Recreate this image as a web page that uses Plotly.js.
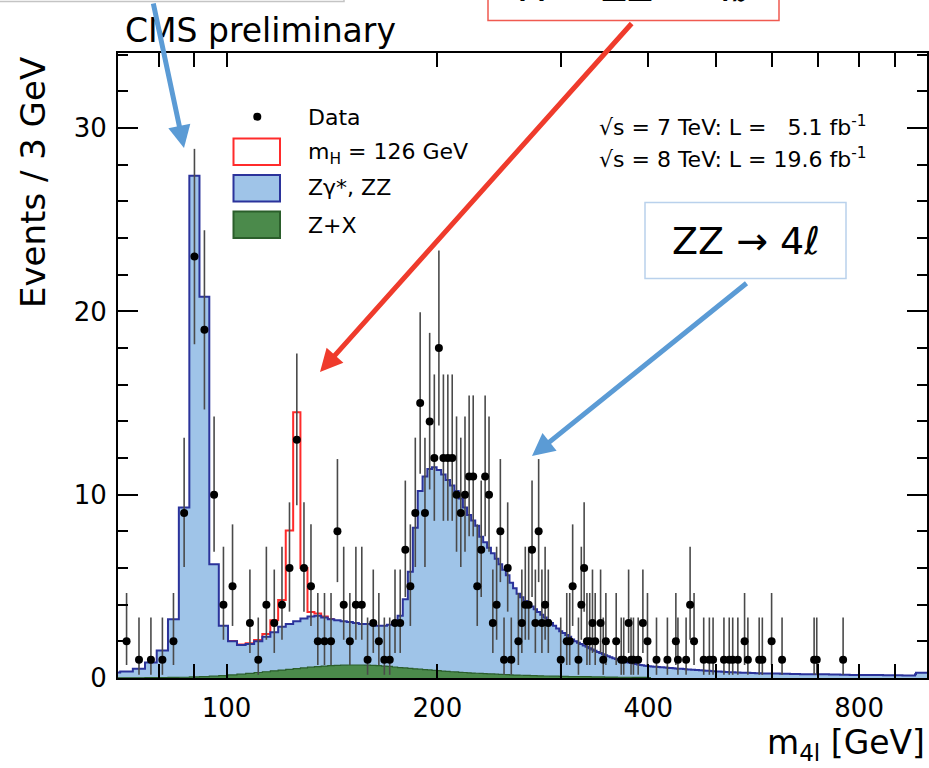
<!DOCTYPE html>
<html><head><meta charset="utf-8">
<script src="https://cdn.plot.ly/plotly-3.0.1.min.js"></script>
<style>html,body{margin:0;padding:0;background:#fff;} #chart{width:929px;height:768px;}</style>
</head><body><div id="chart"></div>
<script>
// ---- binning: 3 GeV bins, first bin [67.5, 70.5] ----
const binLowEdge = 67.5;
const binWidth = 3;

// stacked background top (Zgamma*,ZZ + Z+X), one value per 3 GeV bin, centres 69 ... 999
const bkgTotal = [
  0.3, 0.35, 0.5, 0.85, 1.5, 3.2, 9.3, 27.4, 20.8, 6.2,          // 69-96
  2.85, 2.0, 1.8, 1.85, 2.0, 2.25, 2.5, 2.8, 2.95, 3.1,          // 99-126
  3.25, 3.35, 3.4, 3.3, 3.2, 3.15, 3.1, 3.05, 3.0, 2.95,         // 129-156
  2.95, 2.9, 2.85, 2.85, 2.9, 3.05, 3.4, 4.3, 5.8, 8.2,          // 159-186
  10.2, 11.0, 11.4, 11.5, 11.35, 11.1, 10.8, 10.5, 10.2, 9.8,    // 189-216
  9.3, 8.9, 8.6, 8.3, 7.7, 7.4, 7.1, 6.8, 6.5, 6.2,              // 219-246
  5.9, 5.6, 5.2, 4.9, 4.6, 4.4, 4.2, 4.05, 3.9, 3.75,            // 249-276
  3.6, 3.45, 3.3, 3.15, 3.0, 2.85, 2.7, 2.55, 2.45, 2.35,        // 279-306
  2.25, 2.1, 2.0, 1.92, 1.85, 1.78, 1.7, 1.62, 1.55, 1.48,       // 309-336
  1.42, 1.36, 1.3, 1.24, 1.18, 1.13, 1.08, 1.04, 1.0, 0.96,      // 339-366
  0.92, 0.88, 0.85, 0.82, 0.79, 0.76, 0.73, 0.71, 0.69, 0.67,    // 369-396
  0.65, 0.64, 0.63, 0.62, 0.61, 0.6, 0.59, 0.58, 0.57, 0.56,     // 399-426
  0.55, 0.54, 0.53, 0.52, 0.51, 0.5, 0.5, 0.49, 0.48, 0.47,      // 429-456
  0.46, 0.45, 0.45, 0.44, 0.43, 0.42, 0.42, 0.41, 0.4, 0.39,     // 459-486
  0.39, 0.38, 0.37, 0.37, 0.36, 0.35, 0.35, 0.34, 0.34, 0.33,    // 489-516
  0.33, 0.32, 0.32, 0.31, 0.31, 0.3, 0.3, 0.3, 0.29, 0.29,       // 519-546
  0.29, 0.28, 0.28, 0.28, 0.27, 0.27, 0.27, 0.26, 0.26, 0.26,    // 549-576
  0.26, 0.25, 0.25, 0.25, 0.25, 0.24, 0.24, 0.24, 0.24, 0.24,    // 579-606
  0.24, 0.24, 0.24, 0.23, 0.23, 0.23, 0.23, 0.23, 0.23, 0.23,    // 609-636
  0.22, 0.22, 0.22, 0.22, 0.22, 0.22, 0.22, 0.21, 0.21, 0.21,    // 639-666
  0.21, 0.21, 0.21, 0.21, 0.2, 0.2, 0.2, 0.2, 0.2, 0.2,          // 669-696
  0.2, 0.2, 0.2, 0.2, 0.2, 0.2, 0.2, 0.2, 0.2, 0.19,             // 699-726
  0.19, 0.19, 0.19, 0.19, 0.19, 0.19, 0.19, 0.19, 0.18, 0.18,    // 729-756
  0.18, 0.18, 0.18, 0.18, 0.18, 0.18, 0.17, 0.17, 0.17, 0.17,    // 759-786
  0.17, 0.17, 0.17, 0.17, 0.17, 0.17, 0.17, 0.17, 0.17, 0.17,    // 789-816
  0.17, 0.17, 0.17, 0.17, 0.17, 0.16, 0.16, 0.16, 0.16, 0.16,    // 819-846
  0.16, 0.16, 0.16, 0.16, 0.16, 0.16, 0.15, 0.15, 0.15, 0.15,    // 849-876
  0.15, 0.15, 0.15, 0.15, 0.15, 0.15, 0.15, 0.15, 0.15, 0.15,    // 879-906
  0.15, 0.15, 0.15, 0.15, 0.15, 0.14, 0.14, 0.14, 0.14, 0.14,    // 909-936
  0.14, 0.14, 0.14, 0.14, 0.14, 0.14, 0.14, 0.14, 0.2, 0.28,     // 939-966
  0.28, 0.28, 0.28, 0.28, 0.28, 0.28, 0.28, 0.28, 0.28, 0.28,    // 969-996
  0.28                                                           // 999
];

// Z+X reducible background, same bins, centres 69 ... 402
const zPlusX = [
  0.01, 0.01, 0.01, 0.02, 0.02, 0.03, 0.04, 0.06, 0.08, 0.1,
  0.13, 0.17, 0.21, 0.25, 0.3, 0.34, 0.39, 0.43, 0.47, 0.51,
  0.55, 0.59, 0.62, 0.65, 0.67, 0.69, 0.7, 0.71, 0.71, 0.71,
  0.7, 0.69, 0.67, 0.65, 0.63, 0.6, 0.57, 0.55, 0.52, 0.5,
  0.48, 0.46, 0.44, 0.42, 0.4, 0.38, 0.36, 0.34, 0.33, 0.31,
  0.3, 0.28, 0.27, 0.26, 0.25, 0.24, 0.23, 0.22, 0.21, 0.2,
  0.19, 0.18, 0.17, 0.16, 0.16, 0.15, 0.14, 0.14, 0.13, 0.13,
  0.12, 0.12, 0.11, 0.11, 0.1, 0.1, 0.1, 0.09, 0.09, 0.09,
  0.08, 0.08, 0.08, 0.08, 0.07, 0.07, 0.07, 0.07, 0.06, 0.06,
  0.06, 0.06, 0.06, 0.05, 0.05, 0.05, 0.05, 0.05, 0.04, 0.04,
  0.04, 0.04, 0.04, 0.04, 0.03, 0.03, 0.03, 0.03, 0.03, 0.03,
  0.02, 0.02
];

// Higgs signal (mH = 126 GeV) stacked on top of background
const higgsMass   = [102, 105, 108, 111, 114, 117, 120, 123, 126, 129, 132, 135, 138, 141];
const higgsSignal = [0.02, 0.03, 0.05, 0.08, 0.15, 0.65, 1.45, 5.1, 11.4, 2.75, 0.25, 0.12, 0.05, 0.02];

// observed events (bin centre, count)
const dataMass = [
  72, 75, 78, 81, 84, 87, 90, 93, 96, 99,
  102, 108, 111, 114, 117, 120, 123, 126, 129, 132,
  135, 138, 141, 144, 147, 150, 153, 156, 159, 162,
  165, 168, 171, 174, 177, 180, 183, 186, 189, 192,
  195, 198, 201, 204, 207, 210, 213, 216, 219, 222,
  225, 228, 231, 234, 237, 240, 243, 246, 249, 252,
  255, 261, 264, 267, 270, 273, 276, 279, 282, 285,
  288, 300, 306, 309, 312, 318, 321, 324, 327, 330,
  333, 336, 342, 345, 348, 360, 366, 369, 375, 378,
  381, 387, 393, 399, 411, 426, 438, 441, 453, 459,
  465, 480, 489, 495, 513, 522, 528, 537, 549, 555,
  576, 582, 600, 621, 690, 696, 759
];
const dataCount = [
  2, 1, 1, 1, 2, 9, 23, 19, 10, 4,
  5, 3, 1, 4, 3, 4, 6, 13, 6, 5,
  2, 2, 2, 8, 4, 2, 4, 4, 1, 3,
  2, 1, 1, 3, 3, 7, 5, 9, 15, 9,
  14, 12, 18, 12, 12, 12, 10, 9, 10, 11,
  11, 5, 7, 11, 10, 3, 4, 8, 1, 6,
  1, 2, 3, 4, 4, 7, 3, 8, 3, 4,
  3, 1, 2, 2, 5, 1, 4, 6, 2, 2,
  3, 2, 3, 1, 2, 2, 1, 1, 3, 1,
  1, 1, 3, 2, 1, 1, 2, 1, 1, 4,
  2, 1, 1, 1, 1, 1, 1, 1, 2, 1,
  1, 1, 2, 1, 1, 1, 1
];

// 68% Poisson (Garwood) interval bounds for n = 0..25 events
const poissonLow  = [0, 0.173, 0.708, 1.367, 2.086, 2.840, 3.620, 4.418, 5.231, 6.055, 6.888,
  7.728, 8.575, 9.427, 10.285, 11.146, 12.02, 12.90, 13.77, 14.65, 15.54, 16.43, 17.32, 18.21, 19.11, 20.0];
const poissonHigh = [1.841, 3.300, 4.638, 5.918, 7.163, 8.382, 9.584, 10.771, 11.946, 13.113, 14.271,
  15.419, 16.562, 17.698, 18.831, 19.958, 21.08, 22.20, 23.32, 24.43, 25.55, 26.66, 27.77, 28.87, 29.97, 31.07];

const xTickVals  = [100, 200, 400, 800];
const xTickText  = ['100', '200', '400', '800'];
const xMinorVals = [80, 90, 300, 500, 600, 700, 900];

const COL = {
  zzFill: '#9fc4e8', zzLine: '#2b339b',
  zxFill: '#4b8a4b', zxLine: '#2b5e2b',
  higgs: '#ff2b2b', data: '#000000', err: '#4a4a4a',
  arrowBlue: '#5b9bd5', arrowRed: '#ef3b2c'
};

function stepTrace(firstEdge, values) {
  const x = [], y = [];
  values.forEach((v, i) => { x.push(firstEdge + i * binWidth); y.push(v); });
  x.push(firstEdge + values.length * binWidth);
  y.push(values[values.length - 1]);
  return { x, y };
}

const bkgStep = stepTrace(binLowEdge, bkgTotal);
const zxStep = stepTrace(binLowEdge, zPlusX);
const firstCentre = binLowEdge + binWidth / 2;
const higgsTotal = higgsMass.map((m, i) => bkgTotal[Math.round((m - firstCentre) / binWidth)] + higgsSignal[i]);
const higgsStep = stepTrace(higgsMass[0] - binWidth / 2, higgsTotal);

const errPlus = dataCount.map(n => poissonHigh[n] - n);
const errMinus = dataCount.map(n => n - poissonLow[n]);

const traces = [
  { type: 'scatter', mode: 'lines', x: higgsStep.x, y: higgsStep.y,
    line: { shape: 'hv', color: COL.higgs, width: 2 }, showlegend: false, hoverinfo: 'skip' },
  { type: 'scatter', mode: 'lines', x: bkgStep.x, y: bkgStep.y, fill: 'tozeroy', fillcolor: COL.zzFill,
    line: { shape: 'hv', color: COL.zzLine, width: 2 }, showlegend: false, hoverinfo: 'skip' },
  { type: 'scatter', mode: 'lines', x: zxStep.x, y: zxStep.y, fill: 'tozeroy', fillcolor: COL.zxFill,
    line: { shape: 'hv', color: COL.zxLine, width: 1.2 }, showlegend: false, hoverinfo: 'skip' },
  { type: 'scatter', mode: 'markers', x: dataMass, y: dataCount,
    marker: { color: COL.data, size: 8 },
    error_y: { type: 'data', symmetric: false, array: errPlus, arrayminus: errMinus,
               color: COL.err, thickness: 1.6, width: 0 },
    showlegend: false, hoverinfo: 'skip' }
];

// helpers for paper coordinates from pixel positions of the reference frame
const PL = 118, PW = 809, PB = 678, PH = 625;
const px = v => (v - PL) / PW;
const py = v => (PB - v) / PH;

const FONT = 'DejaVu Sans';

const shapes = [
  // cropped boxes at the top of the slide
  { type: 'rect', xref: 'paper', yref: 'paper', x0: px(-10), x1: px(344), y0: py(1.5), y1: py(-60),
    line: { color: '#c4c4c4', width: 1.5 }, fillcolor: '#ffffff', layer: 'above' },
  { type: 'rect', xref: 'paper', yref: 'paper', x0: px(488), x1: px(779), y0: py(20.5), y1: py(-60),
    line: { color: '#f05a50', width: 1.5 }, fillcolor: 'rgba(0,0,0,0)', layer: 'above' },
  // ZZ -> 4l label box
  { type: 'rect', xref: 'paper', yref: 'paper', x0: px(645), x1: px(846), y0: py(278.5), y1: py(202.5),
    line: { color: '#b9d1ec', width: 1.5 }, fillcolor: '#ffffff', layer: 'above' },
  // legend symbols
  { type: 'rect', xref: 'paper', yref: 'paper', x0: px(233.5), x1: px(280), y0: py(165), y1: py(138.5),
    line: { color: COL.higgs, width: 2 }, fillcolor: '#ffffff', layer: 'above' },
  { type: 'rect', xref: 'paper', yref: 'paper', x0: px(233.5), x1: px(280), y0: py(201.5), y1: py(175),
    line: { color: COL.zzLine, width: 2 }, fillcolor: COL.zzFill, layer: 'above' },
  { type: 'rect', xref: 'paper', yref: 'paper', x0: px(233.5), x1: px(280), y0: py(238), y1: py(211.5),
    line: { color: COL.zxLine, width: 2 }, fillcolor: COL.zxFill, layer: 'above' },
  { type: 'circle', xref: 'paper', yref: 'paper', x0: px(253.3), x1: px(261.3), y0: py(120.7), y1: py(112.7),
    line: { color: '#000', width: 0 }, fillcolor: '#000', layer: 'above' }
];

const ann = (text, x, y, size, extra) => Object.assign({
  text, x, y, xref: 'paper', yref: 'paper', showarrow: false,
  font: { family: FONT, size, color: '#000' }, xanchor: 'left', yanchor: 'middle'
}, extra || {});

const arrow = (hx, hy, tx, ty, color) => ({
  text: '', xref: 'paper', yref: 'paper', x: px(hx), y: py(hy), ax: tx - hx, ay: ty - hy,
  showarrow: true, arrowhead: 2, arrowsize: 0.9, arrowwidth: 5, arrowcolor: color, standoff: 0
});

const annotations = [
  ann('CMS preliminary', px(123), py(30), 33),
  ann('Events / 3 GeV', px(33), py(183), 34, { textangle: -90, xanchor: 'center' }),
  ann('m<sub>4l</sub> [GeV]', px(927), py(744), 33, { xanchor: 'right' }),
  ann('√s = 7 TeV: L =\u00a0\u00a0 5.1 fb<sup>-1</sup>', px(597), py(126), 22),
  ann('√s = 8 TeV: L = 19.6 fb<sup>-1</sup>', px(597), py(158), 22),
  ann('Data', px(306), py(118), 22),
  ann('m<sub>H</sub> = 126 GeV', px(306), py(154), 22),
  ann('Zγ*, ZZ', px(306), py(188), 22),
  ann('Z+X', px(306), py(225), 22),
  ann('ZZ → 4ℓ', px(745.5), py(240.5), 38, { xanchor: 'center' }),
  ann('X → ZZ → 4ℓ', px(633.5), py(12), 38, { xanchor: 'center', yanchor: 'bottom' }),
  arrow(184, 148, 153, 2, COL.arrowBlue),
  arrow(320, 372, 633, 22, COL.arrowRed),
  arrow(532, 456, 748, 282, COL.arrowBlue)
];

const layout = {
  width: 929, height: 768,
  margin: { l: 118, r: 2, t: 53, b: 90 },
  paper_bgcolor: '#ffffff', plot_bgcolor: '#ffffff',
  font: { family: FONT, color: '#000' },
  showlegend: false,
  xaxis: {
    type: 'log', range: [Math.log10(70), Math.log10(1000)],
    tickmode: 'array', tickvals: xTickVals, ticktext: xTickText,
    ticks: 'inside', ticklen: 14, tickwidth: 2, tickcolor: '#000',
    minor: { tickmode: 'array', tickvals: xMinorVals, ticks: 'inside', ticklen: 14, tickwidth: 2, tickcolor: '#000' },
    showline: true, linecolor: '#000', linewidth: 2, mirror: 'ticks',
    showgrid: false, zeroline: false,
    tickfont: { family: FONT, size: 26, color: '#000' }, ticklabelstandoff: 6
  },
  yaxis: {
    range: [0, 34.1], tickmode: 'array', tickvals: [0, 10, 20, 30],
    ticks: 'inside', ticklen: 20, tickwidth: 2, tickcolor: '#000',
    minor: { dtick: 2, ticks: 'inside', ticklen: 10, tickwidth: 2, tickcolor: '#000' },
    showline: true, linecolor: '#000', linewidth: 2, mirror: 'ticks',
    showgrid: false, zeroline: false,
    tickfont: { family: FONT, size: 26, color: '#000' }, ticklabelstandoff: 4
  },
  shapes, annotations
};

Plotly.newPlot('chart', traces, layout, { staticPlot: true, displayModeBar: false });
</script>
</body></html>
